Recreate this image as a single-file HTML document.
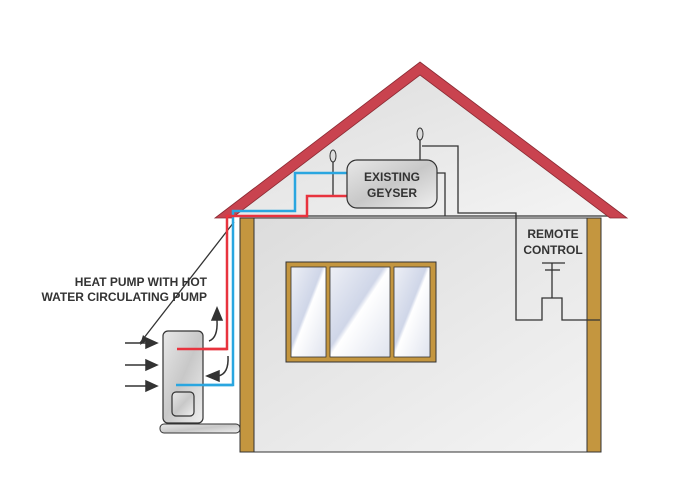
<!DOCTYPE html>
<html><head><style>body{margin:0;background:#fff}svg{display:block}</style></head><body>
<svg width="688" height="494" viewBox="0 0 688 494" xmlns="http://www.w3.org/2000/svg" font-family="Liberation Sans, sans-serif">
<defs>
<linearGradient id="wall" x1="0" y1="0" x2="1" y2="1"><stop offset="0" stop-color="#dcdcdc"/><stop offset="1" stop-color="#f4f4f4"/></linearGradient>
<linearGradient id="glass" x1="0" y1="0" x2="1" y2="1"><stop offset="0" stop-color="#eef0f6"/><stop offset="0.45" stop-color="#cfd6e8"/><stop offset="0.5" stop-color="#ffffff"/><stop offset="1" stop-color="#dfe3ee"/></linearGradient>
<linearGradient id="metal" x1="0" y1="0" x2="1" y2="1"><stop offset="0" stop-color="#e8e8e8"/><stop offset="0.5" stop-color="#c8c8c8"/><stop offset="1" stop-color="#efefef"/></linearGradient>
</defs>
<!-- gable fill -->
<polygon points="420,74 232,216 610,216" fill="url(#wall)"/>
<!-- walls -->
<rect x="240" y="218" width="361" height="234" fill="url(#wall)" stroke="#333" stroke-width="1"/>
<rect x="240" y="218" width="14" height="234" fill="#c4963f" stroke="#333" stroke-width="1"/>
<rect x="587" y="218" width="14" height="234" fill="#c4963f" stroke="#333" stroke-width="1"/>
<line x1="232" y1="216" x2="610" y2="216" stroke="#555" stroke-width="1.5"/>
<!-- roof -->
<polygon points="420,62 627,218 610,218 420,75 232,218 215,218" fill="#c9434f" stroke="#8a2a33" stroke-width="0.8"/>
<!-- window -->
<rect x="286" y="262" width="150" height="100" fill="#c4963f" stroke="#333" stroke-width="1"/>
<rect x="291" y="267" width="35" height="90" fill="url(#glass)" stroke="#333" stroke-width="0.8"/>
<rect x="330" y="267" width="60" height="90" fill="url(#glass)" stroke="#333" stroke-width="0.8"/>
<rect x="394" y="267" width="36" height="90" fill="url(#glass)" stroke="#333" stroke-width="0.8"/>
<!-- black wires -->
<g fill="none" stroke="#333" stroke-width="1.3">
<line x1="420" y1="140" x2="420" y2="160"/>
<polyline points="422,146 458,146 458,213 516,213 516,320 542,320 542,298 562,298 562,320 600,320"/>
<polyline points="437,173 445,173 445,216"/>
<line x1="333" y1="162" x2="333" y2="196"/>
<line x1="552" y1="263" x2="552" y2="298"/>
<line x1="542" y1="263" x2="565" y2="263"/>
<line x1="545" y1="270" x2="560" y2="270"/>
<line x1="234" y1="222" x2="140" y2="343"/>
</g>
<polygon points="140,345 143,335 148,340" fill="#333"/>
<ellipse cx="333" cy="156" rx="3" ry="6" fill="#ddd" stroke="#333"/>
<ellipse cx="420" cy="134" rx="3" ry="6" fill="#ddd" stroke="#333"/>
<!-- pipes -->
<polyline points="347,173 295,173 295,211 233,211 233,385 176,385" fill="none" stroke="#2aa6e0" stroke-width="2.5"/>
<polyline points="347,196 307,196 307,216 227,216 227,349 177,349" fill="none" stroke="#e8333e" stroke-width="2.5"/>
<!-- geyser -->
<rect x="347" y="160" width="90" height="48" rx="10" fill="url(#metal)" stroke="#333" stroke-width="1.2"/>
<text x="392" y="181" text-anchor="middle" font-size="12" font-weight="bold" fill="#333">EXISTING</text>
<text x="392" y="197" text-anchor="middle" font-size="12" font-weight="bold" fill="#333">GEYSER</text>
<!-- remote -->
<text x="553" y="238" text-anchor="middle" font-size="12" font-weight="bold" fill="#333">REMOTE</text>
<text x="553" y="254" text-anchor="middle" font-size="12" font-weight="bold" fill="#333">CONTROL</text>
<!-- heat pump -->
<rect x="160" y="424" width="80" height="9" rx="4" fill="url(#metal)" stroke="#333"/>
<rect x="163" y="331" width="40" height="92" rx="5" fill="url(#metal)" stroke="#333" stroke-width="1.2"/>
<rect x="172" y="392" width="22" height="24" rx="4" fill="url(#metal)" stroke="#333" stroke-width="1.2"/>
<line x1="177" y1="349" x2="227" y2="349" stroke="#e8333e" stroke-width="2.5"/>
<line x1="176" y1="385" x2="233" y2="385" stroke="#2aa6e0" stroke-width="2.5"/>
<!-- arrows -->
<g stroke="#333" stroke-width="1.5" fill="#333">
<line x1="125" y1="343" x2="148" y2="343"/><polygon points="157,343 146,338 146,348"/>
<line x1="125" y1="365" x2="148" y2="365"/><polygon points="157,365 146,360 146,370"/>
<line x1="125" y1="386" x2="148" y2="386"/><polygon points="157,386 146,381 146,391"/>
<path d="M209,341 Q218,338 217,320" fill="none"/><polygon points="217,308 212,320 222,320"/>
<path d="M228,356 Q229,374 218,376" fill="none"/><polygon points="207,376 219,371 219,381"/>
</g>
<text x="207" y="286" text-anchor="end" font-size="12" font-weight="bold" fill="#333">HEAT PUMP WITH HOT</text>
<text x="207" y="301" text-anchor="end" font-size="12" font-weight="bold" fill="#333">WATER CIRCULATING PUMP</text>
</svg>
</body></html>
